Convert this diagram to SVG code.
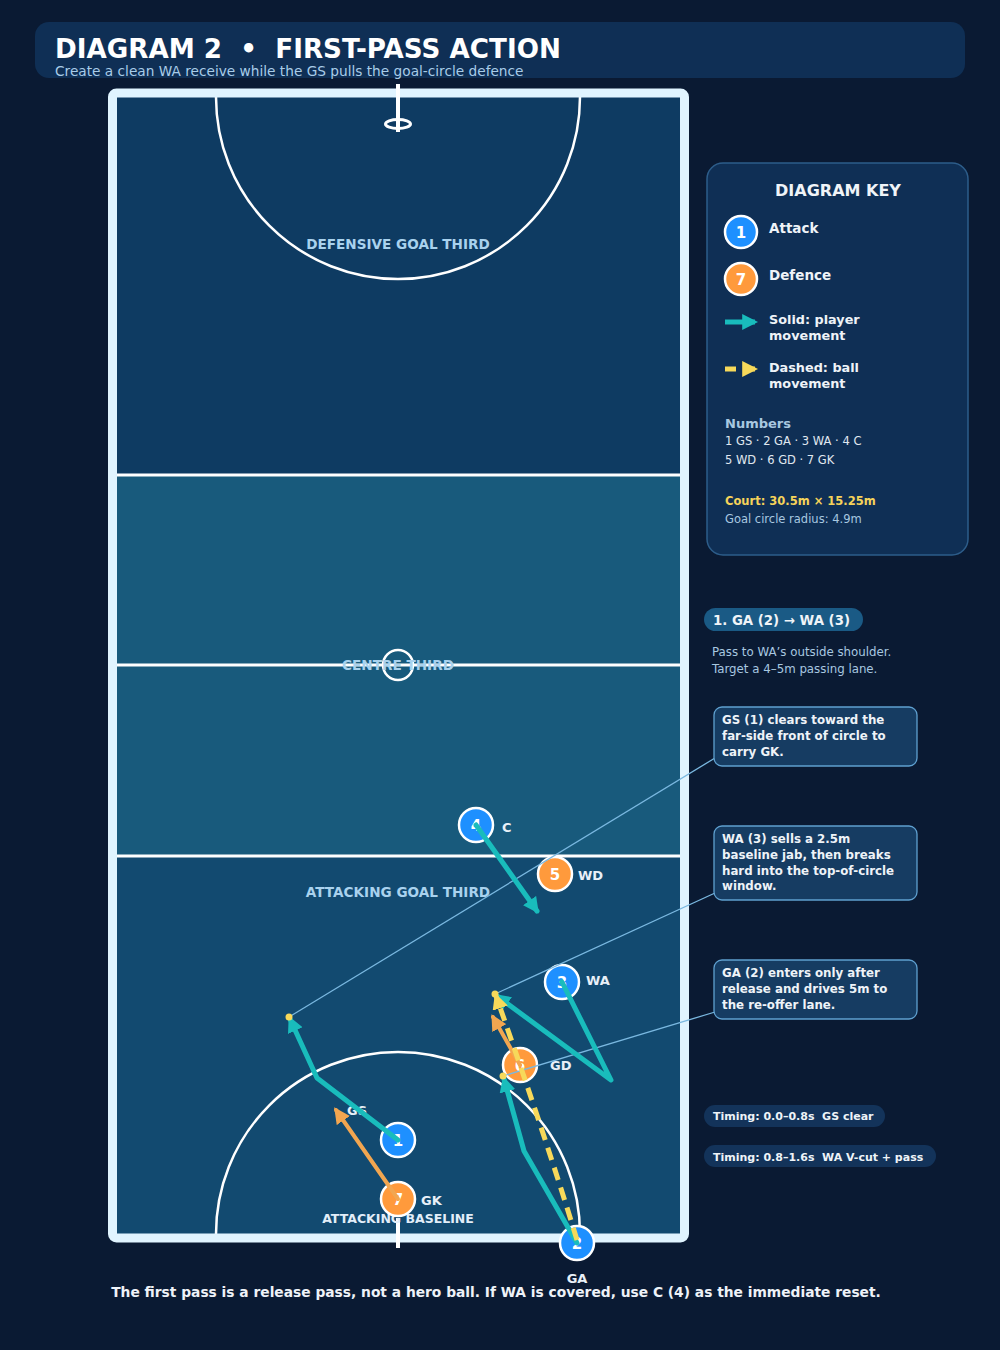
<svg xmlns="http://www.w3.org/2000/svg" width="1000" height="1350" viewBox="0 0 1000 1350">
<style>
text{font-family:"DejaVu Sans","Liberation Sans",sans-serif;white-space:pre}
.b{font-weight:bold}
.zone{font-size:13.6px;font-weight:bold;fill:#a9d2ee;text-anchor:middle}
.num{font-size:15px;font-weight:bold;fill:#ffffff;text-anchor:middle}
.plab{font-size:13px;font-weight:bold;fill:#e8f0f8}
.att{fill:#1e90ff;stroke:#ffffff;stroke-width:2.5}
.def{fill:#ff9a3c;stroke:#ffffff;stroke-width:2.5}
.mv{fill:none;stroke:#19bcbc;stroke-width:5;stroke-linecap:round;stroke-linejoin:round}
.dmv{fill:none;stroke:#f2a650;stroke-width:4;stroke-linecap:round}
.ball{fill:none;stroke:#f7d95a;stroke-width:5;stroke-dasharray:13 8}
.lead{fill:none;stroke:#7ab8e0;stroke-width:1.3}
.box{fill:#163c62;stroke:#5fa0d0;stroke-width:1.3}
.ct{font-size:11.8px;font-weight:bold;fill:#eef3f8}
.pill{fill:#13335a}
.pt{font-size:11px;font-weight:bold;fill:#eef3f8}
.line{stroke:#ffffff;stroke-width:3}
</style>
<defs>
<marker id="aT" viewBox="0 0 10 10" refX="8" refY="5" markerWidth="3.2" markerHeight="3.2" orient="auto"><path d="M0,0L10,5L0,10z" fill="#19bcbc"/></marker>
<marker id="aO" viewBox="0 0 10 10" refX="8" refY="5" markerWidth="4" markerHeight="4" orient="auto"><path d="M0,0L10,5L0,10z" fill="#f2a650"/></marker>
<marker id="aY" viewBox="0 0 10 10" refX="8" refY="5" markerWidth="3.2" markerHeight="3.2" orient="auto"><path d="M0,0L10,5L0,10z" fill="#f7d95a"/></marker>
</defs>
<rect x="0" y="0" width="1000" height="1350" fill="#0a1a33"/>

<g id="header">
<rect x="35" y="22" width="930" height="56" rx="14" fill="#0f2f55"/>
<text x="55" y="58" class="b" font-size="26.2" fill="#ffffff">DIAGRAM 2  •  FIRST-PASS ACTION</text>
<text x="55" y="76" font-size="13.7" fill="#a8cce8">Create a clean WA receive while the GS pulls the goal-circle defence</text>
</g>

<g id="court">
<rect x="117" y="97" width="564" height="379" fill="#0e3b62"/>
<rect x="117" y="476" width="564" height="380" fill="#185a7c"/>
<rect x="117" y="856" width="564" height="378" fill="#124a70"/>
<line x1="117" y1="475" x2="681" y2="475" class="line"/>
<line x1="117" y1="665" x2="681" y2="665" class="line"/>
<line x1="117" y1="856" x2="681" y2="856" class="line"/>
<path d="M216,97 A182,182 0 0 0 580,97" fill="none" stroke="#ffffff" stroke-width="2.5"/>
<path d="M216,1234 A182,182 0 0 1 580,1234" fill="none" stroke="#ffffff" stroke-width="2.5"/>
<circle cx="398" cy="665" r="15" fill="none" stroke="#ffffff" stroke-width="2.5"/>
<rect x="112.5" y="93" width="572" height="1145" rx="4" fill="none" stroke="#e0f4ff" stroke-width="9"/>
<line x1="398" y1="84" x2="398" y2="132" stroke="#ffffff" stroke-width="4"/>
<ellipse cx="398" cy="124" rx="12.5" ry="4.5" fill="none" stroke="#ffffff" stroke-width="3"/>
<line x1="398" y1="1218" x2="398" y2="1248" stroke="#ffffff" stroke-width="4"/>
<text x="398" y="249" class="zone">DEFENSIVE GOAL THIRD</text>
<text x="398" y="670" class="zone">CENTRE THIRD</text>
<text x="398" y="897" class="zone">ATTACKING GOAL THIRD</text>
<text x="398" y="1223" class="zone" style="fill:#e2eef9;font-size:12.5px">ATTACKING BASELINE</text>
</g>

<g id="p4"><circle cx="476" cy="825" r="17" class="att"/><text x="476" y="831" class="num">4</text><text x="502" y="832" class="plab">C</text></g>
<g id="p5"><circle cx="555" cy="874" r="17" class="def"/><text x="555" y="880" class="num">5</text><text x="578" y="880" class="plab">WD</text></g>
<g id="p3"><circle cx="562" cy="982" r="17" class="att"/><text x="562" y="988" class="num">3</text><text x="586" y="985" class="plab">WA</text></g>
<g id="p6"><circle cx="520" cy="1065" r="17" class="def"/><text x="520" y="1071" class="num">6</text><text x="550" y="1070" class="plab">GD</text></g>
<g id="p1"><circle cx="398" cy="1140" r="17" class="att"/><text x="398" y="1146" class="num">1</text><text x="357" y="1115" class="plab" text-anchor="middle">GS</text></g>
<g id="p7"><circle cx="398" cy="1199" r="17" class="def"/><text x="398" y="1205" class="num">7</text><text x="421" y="1205" class="plab">GK</text></g>
<g id="p2"><circle cx="577" cy="1243" r="17" class="att"/><text x="577" y="1249" class="num">2</text><text x="577" y="1283" class="plab" text-anchor="middle">GA</text></g>

<g id="connectors">
<line x1="289" y1="1017" x2="715" y2="758" class="lead"/>
<line x1="495" y1="994" x2="715" y2="893" class="lead"/>
<line x1="503" y1="1076" x2="715" y2="1012" class="lead"/>
<path d="M476,825 L537,911" class="mv" marker-end="url(#aT)"/>
<path d="M398,1140 L317,1078 L290,1019" class="mv" marker-end="url(#aT)"/>
<path d="M562,982 L611,1080 L497,996" class="mv" marker-end="url(#aT)"/>
<path d="M577,1243 L524,1151 L504,1079" class="mv" marker-end="url(#aT)"/>
<path d="M398,1199 L336,1110" class="dmv" marker-end="url(#aO)"/>
<path d="M520,1065 L493,1017" class="dmv" marker-end="url(#aO)"/>
<path d="M577,1240 Q545,1135 496,996" class="ball" marker-end="url(#aY)"/>
<circle cx="289" cy="1017" r="3.5" fill="#f7d95a"/>
<circle cx="495" cy="994" r="3.5" fill="#f7d95a"/>
<circle cx="503" cy="1076" r="3.5" fill="#f7d95a"/>
</g>

<g id="key">
<rect x="707" y="163" width="261" height="392" rx="16" fill="#0f2f55" stroke="#2d5d8a" stroke-width="1.5"/>
<text x="838" y="196" class="b" font-size="16" fill="#f0f4f8" text-anchor="middle">DIAGRAM KEY</text>
<circle cx="741" cy="232" r="16" class="att"/><text x="741" y="238" class="num" font-size="14">1</text>
<text x="769" y="233" class="b" font-size="13.5" fill="#eef3f8">Attack</text>
<circle cx="741" cy="279" r="16" class="def"/><text x="741" y="285" class="num" font-size="14">7</text>
<text x="769" y="280" class="b" font-size="13.5" fill="#eef3f8">Defence</text>
<line x1="725" y1="322" x2="755" y2="322" stroke="#19bcbc" stroke-width="5" marker-end="url(#aT)"/>
<text x="769" y="324" class="b" font-size="12.8" fill="#eef3f8">Solid: player</text>
<text x="769" y="340" class="b" font-size="12.8" fill="#eef3f8">movement</text>
<line x1="725" y1="369" x2="755" y2="369" stroke="#f7d95a" stroke-width="5" stroke-dasharray="11 8" marker-end="url(#aY)"/>
<text x="769" y="372" class="b" font-size="12.8" fill="#eef3f8">Dashed: ball</text>
<text x="769" y="388" class="b" font-size="12.8" fill="#eef3f8">movement</text>
<text x="725" y="428" class="b" font-size="13" fill="#a8c8e0">Numbers</text>
<text x="725" y="445" font-size="11.5" fill="#e0e8f0">1 GS · 2 GA · 3 WA · 4 C</text>
<text x="725" y="464" font-size="11.5" fill="#e0e8f0">5 WD · 6 GD · 7 GK</text>
<text x="725" y="505" class="b" font-size="11.5" fill="#f5d35a">Court: 30.5m × 15.25m</text>
<text x="725" y="523" font-size="11.5" fill="#a8c8e0">Goal circle radius: 4.9m</text>
</g>

<g id="step">
<rect x="704" y="608" width="159" height="23" rx="11.5" fill="#1a5a85"/>
<text x="713" y="625" class="b" font-size="13.3" fill="#f0f4f8">1. GA (2) → WA (3)</text>
<text x="712" y="656" font-size="11.8" fill="#a8c8e0">Pass to WA’s outside shoulder.</text>
<text x="712" y="673" font-size="11.8" fill="#a8c8e0">Target a 4–5m passing lane.</text>
</g>

<g id="callout1">
<rect x="714" y="707" width="203" height="59" rx="8" class="box"/>
<text x="722" y="724" class="ct">GS (1) clears toward the</text>
<text x="722" y="740" class="ct">far-side front of circle to</text>
<text x="722" y="756" class="ct">carry GK.</text>
</g>
<g id="callout2">
<rect x="714" y="826" width="203" height="74" rx="8" class="box"/>
<text x="722" y="843" class="ct">WA (3) sells a 2.5m</text>
<text x="722" y="859" class="ct">baseline jab, then breaks</text>
<text x="722" y="875" class="ct">hard into the top-of-circle</text>
<text x="722" y="890" class="ct">window.</text>
</g>
<g id="callout3">
<rect x="714" y="960" width="203" height="59" rx="8" class="box"/>
<text x="722" y="977" class="ct">GA (2) enters only after</text>
<text x="722" y="993" class="ct">release and drives 5m to</text>
<text x="722" y="1009" class="ct">the re-offer lane.</text>
</g>

<g id="timing1">
<rect x="704" y="1105" width="181" height="22" rx="11" class="pill"/>
<text x="713" y="1120" class="pt">Timing: 0.0–0.8s  GS clear</text>
</g>
<g id="timing2">
<rect x="704" y="1145" width="232" height="22" rx="11" class="pill"/>
<text x="713" y="1161" class="pt">Timing: 0.8–1.6s  WA V-cut + pass</text>
</g>

<text x="496" y="1297" class="b" font-size="13.8" fill="#eef2f8" text-anchor="middle">The first pass is a release pass, not a hero ball. If WA is covered, use C (4) as the immediate reset.</text>
</svg>
